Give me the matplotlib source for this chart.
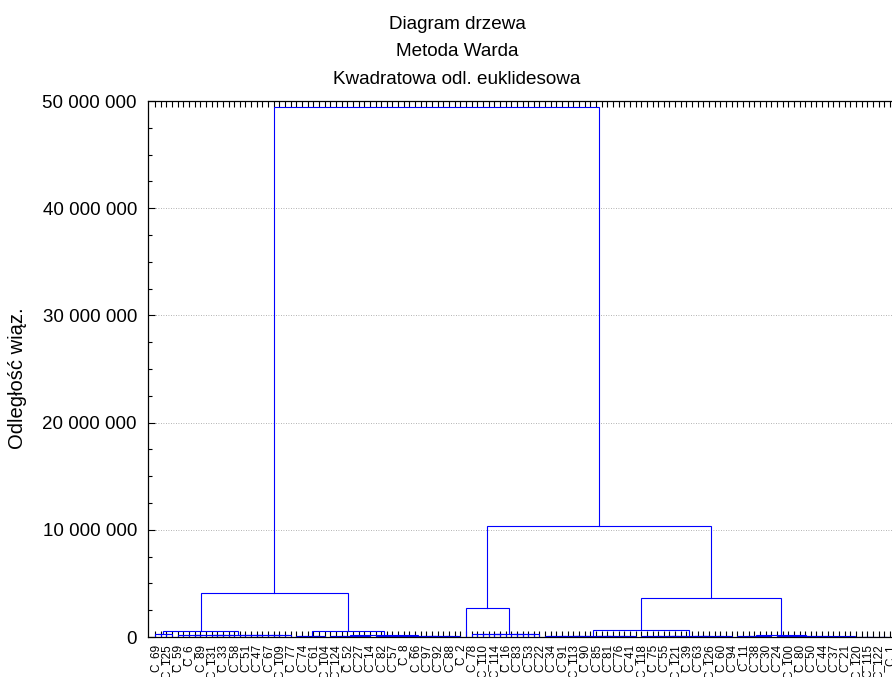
import matplotlib
matplotlib.use('Agg')
from matplotlib import pyplot as plt
from matplotlib.ticker import FuncFormatter, MultipleLocator

# leaf labels shown under the tree (only every second object gets a label)
leaf_labels = ['C_69', 'C_125', 'C_59', 'C_6', 'C_89', 'C_131', 'C_33', 'C_58',
               'C_51', 'C_47', 'C_67', 'C_109', 'C_77', 'C_74', 'C_61', 'C_104',
               'C_124', 'C_52', 'C_27', 'C_14', 'C_82', 'C_57', 'C_8', 'C_66',
               'C_97', 'C_92', 'C_88', 'C_2', 'C_78', 'C_110', 'C_114', 'C_16',
               'C_83', 'C_53', 'C_22', 'C_34', 'C_91', 'C_113', 'C_90', 'C_85',
               'C_81', 'C_76', 'C_41', 'C_118', 'C_75', 'C_55', 'C_121', 'C_39',
               'C_63', 'C_126', 'C_60', 'C_94', 'C_11', 'C_38', 'C_30', 'C_24',
               'C_100', 'C_80', 'C_50', 'C_44', 'C_37', 'C_21', 'C_120', 'C_115',
               'C_122', 'C_1']
n_objects = 131

# low level groups in tree order: name, number of objects, linkage distance inside
group_names = ['A1a', 'A1b', 'A2a', 'A2b1', 'A2b2', 'B1a', 'B1b', 'B2a1', 'B2a2',
               'B2b1', 'B2b2a', 'B2b2b1', 'B2b2b2']
group_sizes = [4, 21, 6, 8, 16, 1, 13, 17, 17, 7, 3, 4, 14]
group_heights = [250000, 150000, 100000, 80000, 60000, 0, 300000, 120000, 100000,
                 100000, 50000, 40000, 40000]

# upper merges (Ward): new cluster, left, right, linkage distance
merge_names = ['A1', 'A2b', 'A2', 'A', 'B1', 'B2a', 'B2b2b', 'B2b2', 'B2b', 'B2', 'B', 'root']
merge_left = ['A1a', 'A2b1', 'A2a', 'A1', 'B1a', 'B2a1', 'B2b2b1', 'B2b2a', 'B2b1', 'B2a', 'B1', 'A']
merge_right = ['A1b', 'A2b2', 'A2b', 'A2', 'B1b', 'B2a2', 'B2b2b2', 'B2b2b', 'B2b2', 'B2b', 'B2', 'B']
merge_heights = [600000, 200000, 550000, 4100000, 2700000, 650000, 80000, 120000,
                 200000, 3640000, 10350000, 49400000]

LINE = '#0000ff'


def draw_link(ax, xl, yl, xr, yr, h):
    """draw one U-shaped link of the tree"""
    ax.plot([xl, xl, xr, xr], [yl, h, h, yr], color=LINE, lw=0.8, solid_joinstyle='miter')


def draw_group(ax, lo, hi, h):
    """join objects lo..hi at distance h, return position of the cluster"""
    if lo == hi:
        return lo, 0.0
    mid = (lo + hi) // 2
    xl, yl = draw_group(ax, lo, mid, h)
    xr, yr = draw_group(ax, mid + 1, hi, h)
    draw_link(ax, xl, yl, xr, yr, h)
    return (xl + xr) / 2, h


def main():
    """main function"""
    plt.rcParams['font.family'] = ['Liberation Sans', 'DejaVu Sans']

    fig = plt.figure(figsize=(8.92, 6.77), dpi=100)
    # the plot runs a bit past the right border, as in the original export
    ax = fig.add_axes([148 / 892, 40 / 677, 749 / 892, 536 / 677])

    pos = {}
    start = 0
    for name, size, h in zip(group_names, group_sizes, group_heights):
        pos[name] = draw_group(ax, start, start + size - 1, h)
        start += size

    for name, left, right, h in zip(merge_names, merge_left, merge_right, merge_heights):
        xl, yl = pos[left]
        xr, yr = pos[right]
        draw_link(ax, xl, yl, xr, yr, h)
        pos[name] = ((xl + xr) / 2, h)

    ax.set_xlim(-1.24, n_objects - 1 + 1.24)
    ax.set_ylim(0, 50000000)

    # x ticks: every object, labels on every second one
    ax.set_xticks(range(0, n_objects, 2))
    ax.set_xticklabels(leaf_labels, rotation=90, fontsize=8.5, va='top')
    ax.set_xticks(range(1, n_objects, 2), minor=True)
    ax.tick_params(axis='x', which='both', direction='in', top=True, bottom=True,
                   length=4, width=0.8, pad=5)

    ax.yaxis.set_major_locator(MultipleLocator(10000000))
    ax.yaxis.set_minor_locator(MultipleLocator(2500000))
    ax.yaxis.set_major_formatter(FuncFormatter(lambda v, p: f'{int(v):,}'.replace(',', ' ')))
    ax.tick_params(axis='y', which='major', direction='in', length=5, width=0.8,
                   labelsize=13.5, pad=8)
    ax.tick_params(axis='y', which='minor', direction='in', length=3, width=0.8)

    # dotted grid
    ax.grid(axis='y', which='major', color='#9a9a9a', linestyle=(0, (1, 2)), lw=0.6)
    ax.set_axisbelow(True)

    for side in ax.spines.values():
        side.set_linewidth(0.9)

    # title lines
    for text, base in zip(['Diagram drzewa', 'Metoda Warda', 'Kwadratowa odl. euklidesowa'],
                          [29, 56.5, 83.5]):
        fig.text(457 / 892, 1 - base / 677, text, ha='center', va='baseline', fontsize=13.6)

    fig.text(18 / 892, 1 - 378 / 677, 'Odległość wiąz.', rotation=90, ha='center',
             va='center', fontsize=14.5)

    plt.savefig('out.png', dpi=100)


if __name__ == '__main__':
    main()
